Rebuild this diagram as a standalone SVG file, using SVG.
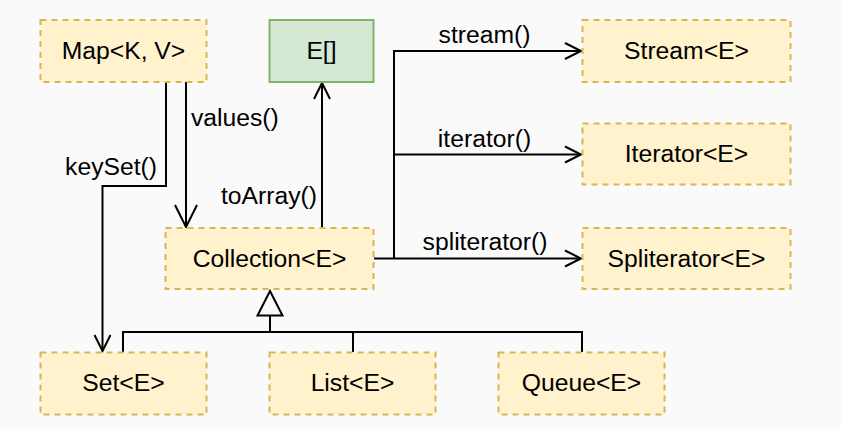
<svg xmlns="http://www.w3.org/2000/svg" width="841" height="429" viewBox="0 0 841 429">
  <style>
    .node rect { fill: #fff2cc; stroke: #d6b656; stroke-width: 2; stroke-dasharray: 6 5; }
    .node.green rect { fill: #d5e8d4; stroke: #82b366; stroke-dasharray: none; }
    text { font-family: "Liberation Sans", Arial, Helvetica, sans-serif; font-size: 24.7px; fill: #000; }
    .node text { text-anchor: middle; }
    .edge { fill: none; stroke: #000; stroke-width: 2; }
  </style>
  <defs>
    <marker id="arr" markerUnits="userSpaceOnUse" markerWidth="20" markerHeight="20" refX="16" refY="8" orient="auto" overflow="visible">
      <path d="M0,0 L16,8 L0,16" fill="none" stroke="#000" stroke-width="2"/>
    </marker>
    <marker id="arrBig" markerUnits="userSpaceOnUse" markerWidth="26" markerHeight="26" refX="22" refY="11" orient="auto" overflow="visible">
      <path d="M0,0 L22,11 L0,22" fill="none" stroke="#000" stroke-width="2"/>
    </marker>
  </defs>
  <rect x="0" y="0" width="841" height="429" fill="#fafafa"/>

  <g id="connectors">
    <path class="edge" d="M166,82 V186 H102.5 V351" marker-end="url(#arr)"/>
    <path class="edge" d="M186,82 V227" marker-end="url(#arrBig)"/>
    <path class="edge" d="M322,228 V83" marker-end="url(#arr)"/>
    <path class="edge" d="M374,258.5 H581" marker-end="url(#arr)"/>
    <path class="edge" d="M394,258.5 V51 H581" marker-end="url(#arr)"/>
    <path class="edge" d="M394,154.5 H581" marker-end="url(#arr)"/>
    <path class="edge" d="M123,352 V332 H582 V352"/>
    <path class="edge" d="M353,352 V332"/>
    <path class="edge" d="M270,332 V315.5"/>
    <path class="edge" d="M270,291 L282.5,315.5 L257.5,315.5 Z" fill="#fafafa"/>
    <text x="191" y="126">values()</text>
    <text x="157" y="175" text-anchor="end">keySet()</text>
    <text x="317" y="204" text-anchor="end">toArray()</text>
    <text x="484.5" y="43" text-anchor="middle">stream()</text>
    <text x="484.5" y="147" text-anchor="middle">iterator()</text>
    <text x="485" y="250" text-anchor="middle">spliterator()</text>
  </g>

  <g id="map" class="node"><rect x="40.5" y="20" width="166" height="62"/><text x="123.5" y="59">Map&lt;K, V&gt;</text></g>
  <g id="array" class="node green"><rect x="269.5" y="20" width="104" height="62"/><text x="321.5" y="59">E[]</text></g>
  <g id="collection" class="node"><rect x="165.5" y="228" width="208" height="61"/><text x="269.5" y="267">Collection&lt;E&gt;</text></g>
  <g id="stream" class="node"><rect x="582.5" y="20" width="208" height="62"/><text x="686.5" y="59">Stream&lt;E&gt;</text></g>
  <g id="iterator" class="node"><rect x="582.5" y="123.5" width="208" height="61"/><text x="686.5" y="162">Iterator&lt;E&gt;</text></g>
  <g id="spliterator" class="node"><rect x="582.5" y="228" width="208" height="61"/><text x="686.5" y="267">Spliterator&lt;E&gt;</text></g>
  <g id="set" class="node"><rect x="40.5" y="352.5" width="166" height="62"/><text x="123.5" y="391">Set&lt;E&gt;</text></g>
  <g id="list" class="node"><rect x="269.5" y="352.5" width="166" height="62"/><text x="352.5" y="391">List&lt;E&gt;</text></g>
  <g id="queue" class="node"><rect x="498.5" y="352.5" width="166" height="62"/><text x="581.5" y="391">Queue&lt;E&gt;</text></g>
</svg>
